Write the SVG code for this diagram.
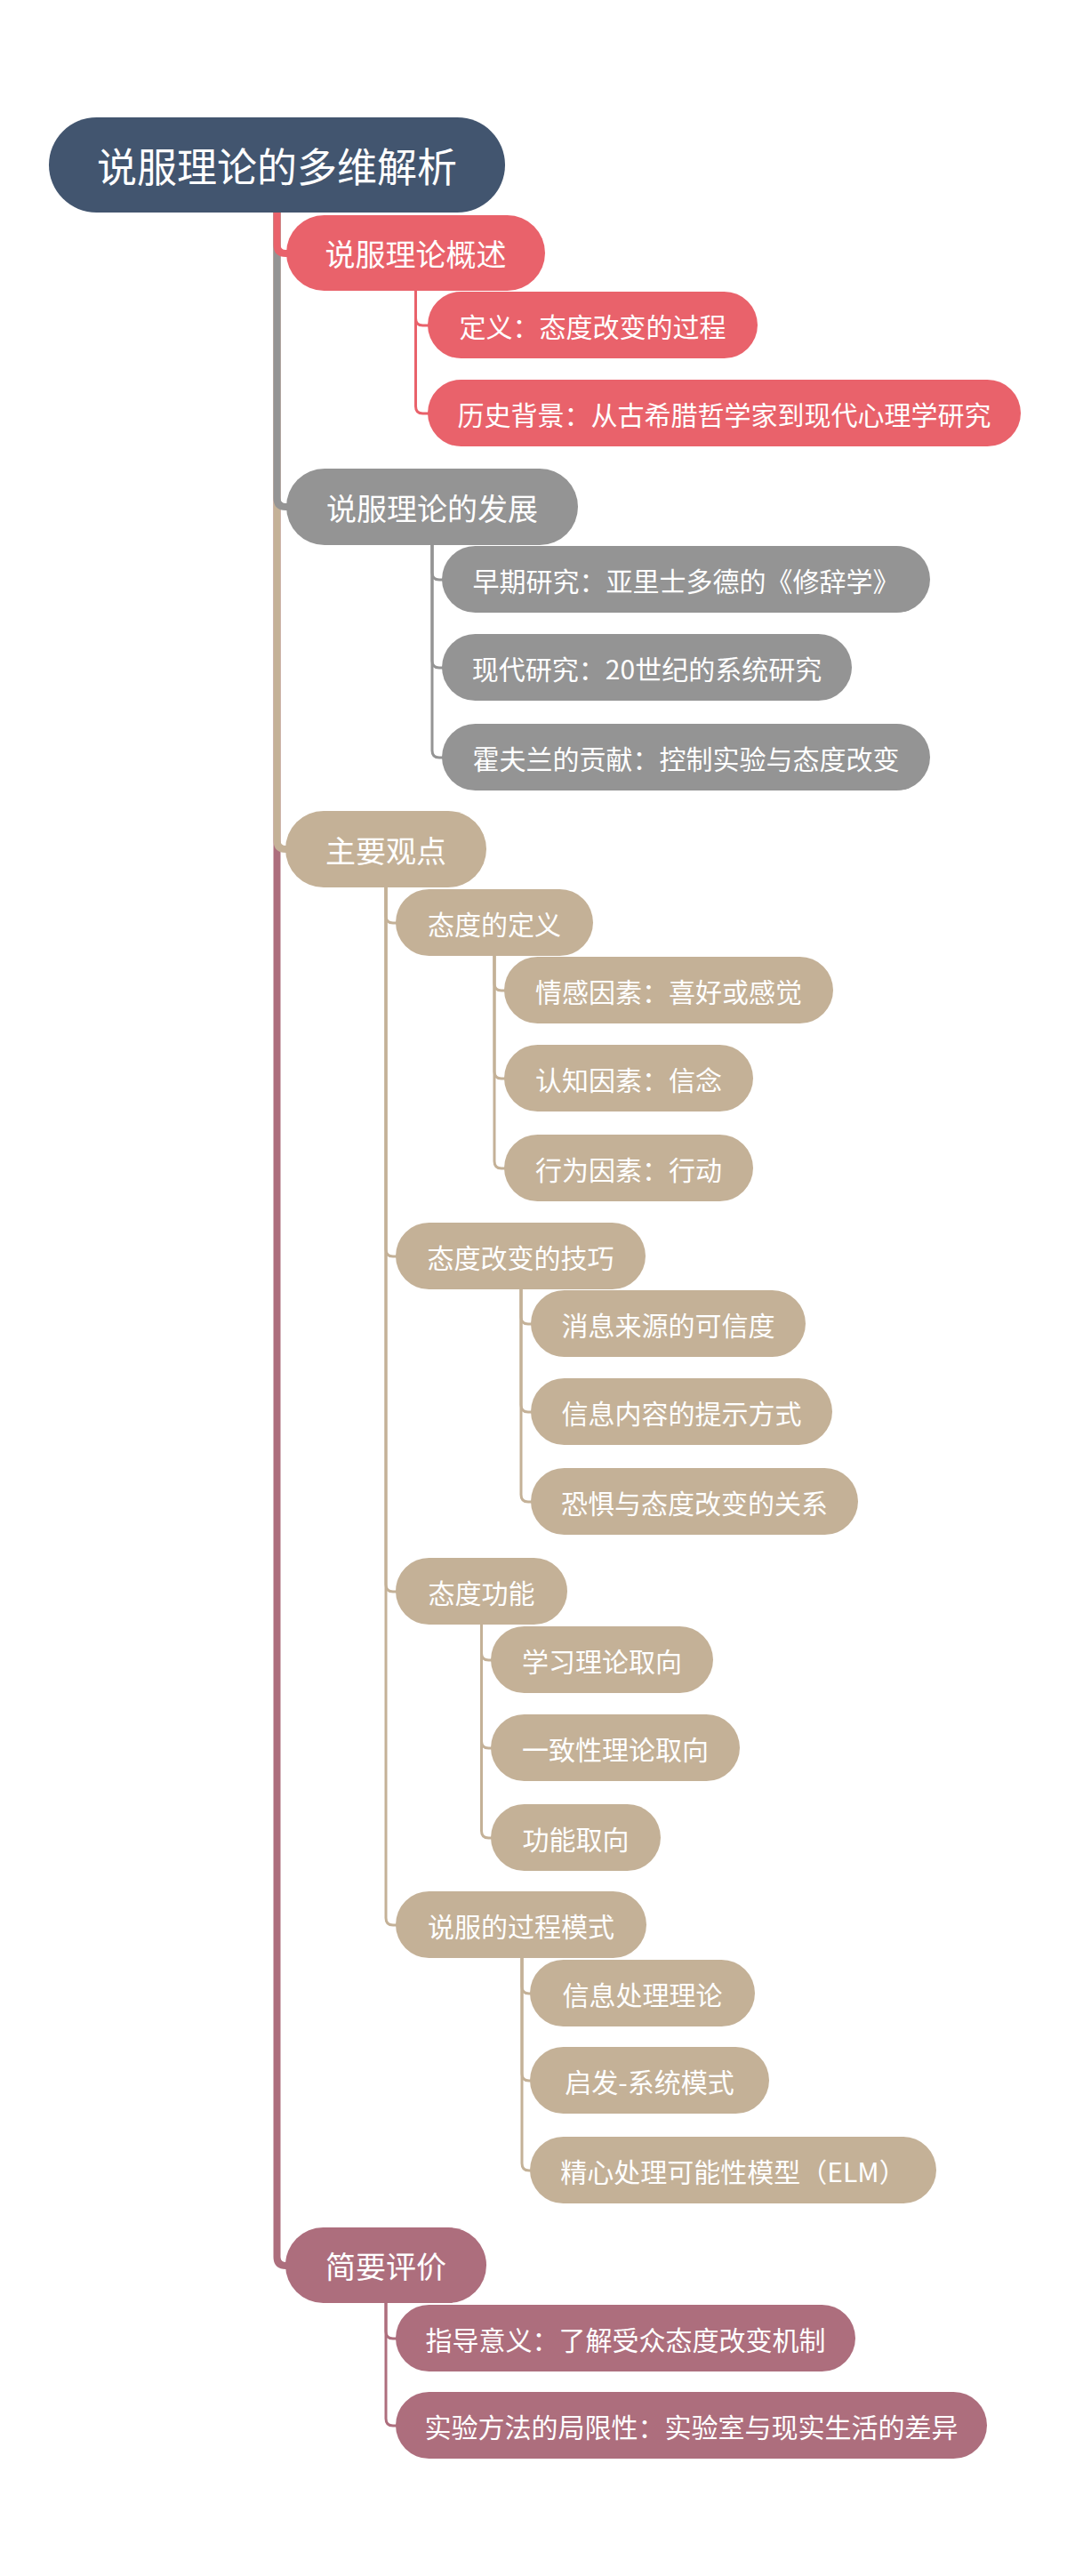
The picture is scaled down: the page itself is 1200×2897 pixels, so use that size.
<svg xmlns="http://www.w3.org/2000/svg" width="1200" height="2897" viewBox="0 0 1200 2897">
<style>
text{font-family:"Noto Sans CJK SC","Noto Sans",sans-serif;fill:#ffffff;text-anchor:middle;dominant-baseline:central}
.t0{font-size:45px}
.t1{font-size:34px}
.t2{font-size:30px}
.root{fill:#42556F}
.red{fill:#E9626B}
.gray{fill:#949494}
.tan{fill:#C4B197}
.mar{fill:#AD6E7D}
.trunk{fill:none;stroke-width:8}
.sub{fill:none;stroke-width:3}
.sr{stroke:#E9626B}
.sg{stroke:#949494}
.st{stroke:#C4B197}
.sm{stroke:#AD6E7D}
</style>
<rect width="1200" height="2897" fill="#ffffff"/>
<g id="connectors">
<path class="trunk sm" d="M311.5,239 L311.5,2538 Q311.5,2548 321.5,2548 L326,2548"/>
<path class="trunk st" d="M311.5,239 L311.5,945 Q311.5,955 321.5,955 L326,955"/>
<path class="trunk sg" d="M311.5,239 L311.5,560 Q311.5,570 321.5,570 L326,570"/>
<path class="trunk sr" d="M311.5,239 L311.5,275 Q311.5,285 321.5,285 L326,285"/>
<path class="sub sr" d="M467.5,327 L467.5,358 Q467.5,366 475.5,366 L483,366"/>
<path class="sub sr" d="M467.5,327 L467.5,457 Q467.5,465 475.5,465 L483,465"/>
<path class="sub sg" d="M486,613 L486,644 Q486,652 494,652 L499,652"/>
<path class="sub sg" d="M486,613 L486,743 Q486,751 494,751 L499,751"/>
<path class="sub sg" d="M486,613 L486,844 Q486,852 494,852 L499,852"/>
<path class="sub st" d="M434,998 L434,1030 Q434,1038 442,1038 L447,1038"/>
<path class="sub st" d="M434,998 L434,1405 Q434,1413 442,1413 L447,1413"/>
<path class="sub st" d="M434,998 L434,1782 Q434,1790 442,1790 L447,1790"/>
<path class="sub st" d="M434,998 L434,2157 Q434,2165 442,2165 L447,2165"/>
<path class="sub st" d="M556,1075 L556,1106 Q556,1114 564,1114 L569,1114"/>
<path class="sub st" d="M556,1075 L556,1205 Q556,1213 564,1213 L569,1213"/>
<path class="sub st" d="M556,1075 L556,1306 Q556,1314 564,1314 L569,1314"/>
<path class="sub st" d="M586,1450 L586,1481 Q586,1489 594,1489 L599,1489"/>
<path class="sub st" d="M586,1450 L586,1580 Q586,1588 594,1588 L599,1588"/>
<path class="sub st" d="M586,1450 L586,1681 Q586,1689 594,1689 L599,1689"/>
<path class="sub st" d="M541.5,1827 L541.5,1859 Q541.5,1867 549.5,1867 L554,1867"/>
<path class="sub st" d="M541.5,1827 L541.5,1958 Q541.5,1966 549.5,1966 L554,1966"/>
<path class="sub st" d="M541.5,1827 L541.5,2059 Q541.5,2067 549.5,2067 L554,2067"/>
<path class="sub st" d="M587,2202 L587,2234 Q587,2242 595,2242 L598,2242"/>
<path class="sub st" d="M587,2202 L587,2332 Q587,2340 595,2340 L598,2340"/>
<path class="sub st" d="M587,2202 L587,2433 Q587,2441 595,2441 L598,2441"/>
<path class="sub sm" d="M434,2590 L434,2622 Q434,2630 442,2630 L447,2630"/>
<path class="sub sm" d="M434,2590 L434,2720 Q434,2728 442,2728 L447,2728"/>
</g>
<g id="root"><rect class="root" x="55" y="132" width="513" height="107" rx="53.5"/><text class="t0" x="311.5" y="185.5">说服理论的多维解析</text></g>
<g id="n-a"><rect class="red" x="322" y="242" width="291" height="85" rx="42.5"/><text class="t1" x="467.5" y="284.5">说服理论概述</text></g>
<g id="n-a1"><rect class="red" x="481" y="328" width="371" height="75" rx="37.5"/><text class="t2" x="666.5" y="365.5">定义：态度改变的过程</text></g>
<g id="n-a2"><rect class="red" x="481" y="427" width="667" height="75" rx="37.5"/><text class="t2" x="814.5" y="464.5">历史背景：从古希腊哲学家到现代心理学研究</text></g>
<g id="n-b"><rect class="gray" x="322" y="527" width="328" height="86" rx="43"/><text class="t1" x="486" y="570">说服理论的发展</text></g>
<g id="n-b1"><rect class="gray" x="497" y="614" width="549" height="75" rx="37.5"/><text class="t2" x="771.5" y="651.5">早期研究：亚里士多德的《修辞学》</text></g>
<g id="n-b2"><rect class="gray" x="497" y="713" width="461" height="75" rx="37.5"/><text class="t2" x="727.5" y="750.5">现代研究：20世纪的系统研究</text></g>
<g id="n-b3"><rect class="gray" x="497" y="814" width="549" height="75" rx="37.5"/><text class="t2" x="771.5" y="851.5">霍夫兰的贡献：控制实验与态度改变</text></g>
<g id="n-c"><rect class="tan" x="321" y="912" width="226" height="86" rx="43"/><text class="t1" x="434" y="955">主要观点</text></g>
<g id="n-c1"><rect class="tan" x="445" y="1000" width="222" height="75" rx="37.5"/><text class="t2" x="556" y="1037.5">态度的定义</text></g>
<g id="n-c1a"><rect class="tan" x="567" y="1076" width="370" height="75" rx="37.5"/><text class="t2" x="752" y="1113.5">情感因素：喜好或感觉</text></g>
<g id="n-c1b"><rect class="tan" x="567" y="1175" width="280" height="75" rx="37.5"/><text class="t2" x="707" y="1212.5">认知因素：信念</text></g>
<g id="n-c1c"><rect class="tan" x="567" y="1276" width="280" height="75" rx="37.5"/><text class="t2" x="707" y="1313.5">行为因素：行动</text></g>
<g id="n-c2"><rect class="tan" x="445" y="1375" width="281" height="75" rx="37.5"/><text class="t2" x="585.5" y="1412.5">态度改变的技巧</text></g>
<g id="n-c2a"><rect class="tan" x="597" y="1451" width="309" height="75" rx="37.5"/><text class="t2" x="751.5" y="1488.5">消息来源的可信度</text></g>
<g id="n-c2b"><rect class="tan" x="597" y="1550" width="339" height="75" rx="37.5"/><text class="t2" x="766.5" y="1587.5">信息内容的提示方式</text></g>
<g id="n-c2c"><rect class="tan" x="597" y="1651" width="368" height="75" rx="37.5"/><text class="t2" x="781" y="1688.5">恐惧与态度改变的关系</text></g>
<g id="n-c3"><rect class="tan" x="445" y="1752" width="193" height="75" rx="37.5"/><text class="t2" x="541.5" y="1789.5">态度功能</text></g>
<g id="n-c3a"><rect class="tan" x="552" y="1829" width="250" height="75" rx="37.5"/><text class="t2" x="677" y="1866.5">学习理论取向</text></g>
<g id="n-c3b"><rect class="tan" x="552" y="1928" width="280" height="75" rx="37.5"/><text class="t2" x="692" y="1965.5">一致性理论取向</text></g>
<g id="n-c3c"><rect class="tan" x="552" y="2029" width="191" height="75" rx="37.5"/><text class="t2" x="647.5" y="2066.5">功能取向</text></g>
<g id="n-c4"><rect class="tan" x="445" y="2127" width="282" height="75" rx="37.5"/><text class="t2" x="586" y="2164.5">说服的过程模式</text></g>
<g id="n-c4a"><rect class="tan" x="596" y="2204" width="253" height="75" rx="37.5"/><text class="t2" x="722.5" y="2241.5">信息处理理论</text></g>
<g id="n-c4b"><rect class="tan" x="596" y="2302" width="269" height="75" rx="37.5"/><text class="t2" x="730.5" y="2339.5">启发-系统模式</text></g>
<g id="n-c4c"><rect class="tan" x="596" y="2403" width="457" height="75" rx="37.5"/><text class="t2" x="824.5" y="2440.5">精心处理可能性模型（ELM）</text></g>
<g id="n-d"><rect class="mar" x="321" y="2505" width="226" height="85" rx="42.5"/><text class="t1" x="434" y="2547.5">简要评价</text></g>
<g id="n-d1"><rect class="mar" x="445" y="2592" width="517" height="75" rx="37.5"/><text class="t2" x="703.5" y="2629.5">指导意义：了解受众态度改变机制</text></g>
<g id="n-d2"><rect class="mar" x="445" y="2690" width="665" height="75" rx="37.5"/><text class="t2" x="777.5" y="2727.5">实验方法的局限性：实验室与现实生活的差异</text></g>
</svg>
